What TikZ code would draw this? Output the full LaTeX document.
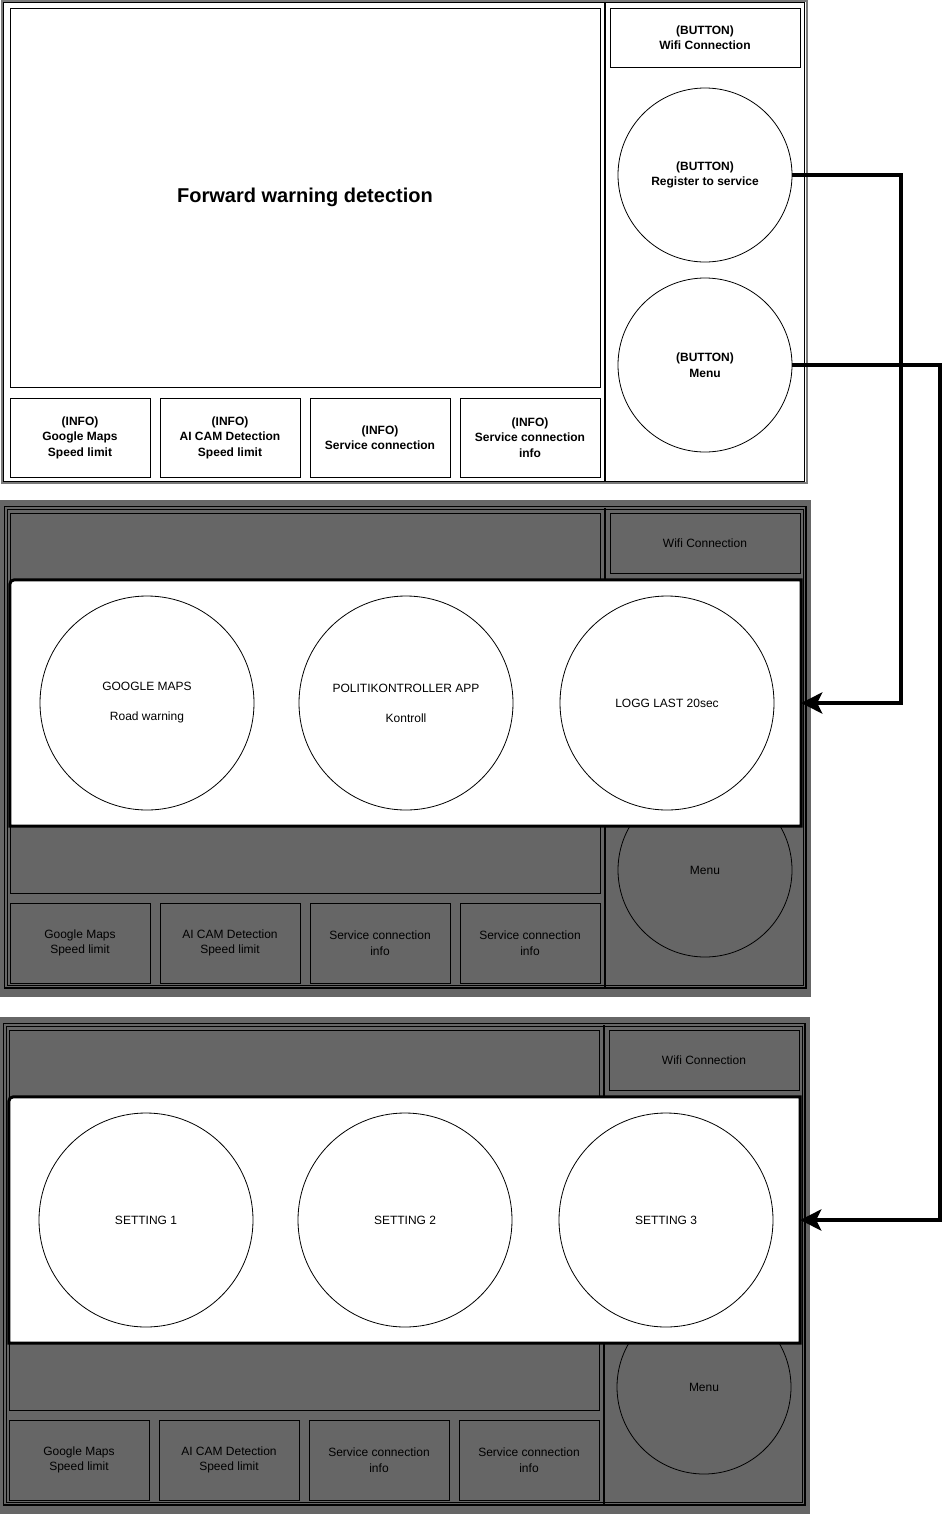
\documentclass[tikz,border=0pt]{standalone}
\usepackage{fontspec}
\setmainfont{Liberation Sans}
\usetikzlibrary{arrows.meta}
\definecolor{panelgray}{HTML}{666666}
\definecolor{framegray}{HTML}{7A7A7A}
\tikzset{
  txt/.style={font=\fontsize{12}{15.5}\selectfont, align=center, text=black},
  box/.style={txt, draw=black, line width=1pt, rectangle, inner sep=0pt},
  bbox/.style={box, font=\fontsize{12}{15.5}\selectfont\bfseries},
  btn/.style={txt, circle, draw=black, line width=0.8pt, minimum size=174pt, inner sep=0pt},
  bbtn/.style={btn, font=\fontsize{12}{15.5}\selectfont\bfseries},
  opt/.style={txt, circle, draw=black, line width=0.8pt, minimum size=214pt, inner sep=0pt, fill=white},
  link/.style={line width=4pt, -{Stealth[length=21pt,width=21pt,inset=5pt]}}
}
\newcommand{\graypanel}[3]{%
  \fill[panelgray] (0,500) rectangle (811,997);
  \draw[line width=1.3pt] (4.5,506.5) rectangle (806,988);
  \draw[line width=0.9pt] (7.3,509.3) rectangle (803.5,985.5);
  \draw[line width=1.4pt] (605,508) -- (605,987);
  \node[box, fill=panelgray, minimum width=590pt, minimum height=380pt] (main) at (305,703) {};
  \node[box, fill=panelgray, minimum width=190pt, minimum height=60pt] (wifi) at (705,543) {Wifi Connection};
  \node[btn, fill=panelgray] (menu) at (705,870) {Menu};
  \node[box, fill=panelgray, minimum width=140pt, minimum height=80pt] (i1) at (80,943) {Google Maps\\Speed limit};
  \node[box, fill=panelgray, minimum width=140pt, minimum height=80pt] (i2) at (230,943) {AI CAM Detection\\Speed limit};
  \node[box, fill=panelgray, minimum width=140pt, minimum height=80pt] (i3) at (380,943) {Service connection\\info};
  \node[box, fill=panelgray, minimum width=140pt, minimum height=80pt] (i4) at (530,943) {Service connection\\info};
  \node[fill=white, draw=none, rectangle, inner sep=0pt, minimum width=791pt, minimum height=246pt] (ov) at (405.5,703) {};
  \draw[line width=3pt] (ov.south east) -- (ov.south west) -- ([yshift=-10pt]ov.north west)
     .. controls (ov.north west) .. ([xshift=10pt]ov.north west) -- (ov.north east) -- cycle;
  \node[opt] (c1) at (147,703) {#1};
  \node[opt] (c2) at (406,703) {#2};
  \node[opt] (c3) at (667,703) {#3};
}
\begin{document}
\begin{tikzpicture}[x=1pt, y=-1pt]
\useasboundingbox (0,0) rectangle (951,1515);
\fill[white] (0,0) rectangle (951,1515);
% ---------- top panel ----------
\draw[framegray, line width=2pt] (1.5,1) rectangle (806.5,482.5);
\draw[black, line width=0.9pt] (3.5,2.8) rectangle (804.8,481);
\draw[line width=1.4pt] (605,3) -- (605,481);
\node[box, minimum width=590pt, minimum height=379pt, font=\fontsize{20}{24}\selectfont\bfseries] (fwd) at (305,197.5) {\raisebox{-3pt}{Forward warning detection}};
\node[bbox, minimum width=190pt, minimum height=59pt] (wifi) at (705,37.5) {(BUTTON)\\Wifi Connection};
\node[bbtn] (reg) at (705,175) {(BUTTON)\\Register to service};
\node[bbtn] (menu) at (705,365) {(BUTTON)\\Menu};
\node[bbox, minimum width=140pt, minimum height=79pt] (inf1) at (80,437.5) {(INFO)\\Google Maps\\Speed limit};
\node[bbox, minimum width=140pt, minimum height=79pt] (inf2) at (230,437.5) {(INFO)\\AI CAM Detection\\Speed limit};
\node[bbox, minimum width=140pt, minimum height=79pt] (inf3) at (380,437.5) {(INFO)\\Service connection};
\node[bbox, minimum width=140pt, minimum height=79pt] (inf4) at (530,437.5) {(INFO)\\Service connection\\info};
% ---------- second panel ----------
\begin{scope}[name prefix=p2-]
\graypanel{GOOGLE MAPS\\[14.5pt]Road warning}{POLITIKONTROLLER APP\\[14.5pt]Kontroll}{LOGG LAST 20sec}
\end{scope}
% ---------- third panel ----------
\begin{scope}[shift={(-1,517)}, name prefix=p3-]
\graypanel{SETTING 1}{SETTING 2}{SETTING 3}
\end{scope}
% ---------- connectors ----------
\coordinate (j1) at (901,175);
\coordinate (j2) at (940,365);
\draw[link] (reg.east) -- (j1) |- (p2-ov.east);
\draw[link] (menu.east) -- (j2) |- (p3-ov.east);
\end{tikzpicture}
\end{document}
